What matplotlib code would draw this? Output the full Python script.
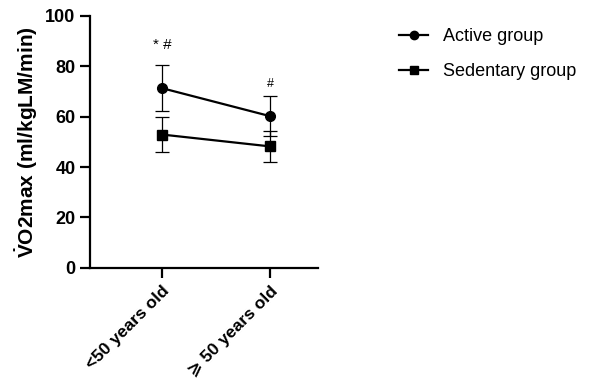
import matplotlib.pyplot as plt
from matplotlib.lines import Line2D

plt.rcParams['font.family'] = ['Liberation Sans', 'DejaVu Sans']
plt.rcParams['mathtext.fontset'] = 'custom'
plt.rcParams['mathtext.rm'] = 'Liberation Sans'
plt.rcParams['mathtext.bf'] = 'Liberation Sans:bold'

groups = ["<50 years old", "\u2a7e 50 years old"]
active_mean = [71.3, 60.2]
active_sd = [9.0, 7.9]
sedentary_mean = [52.9, 48.2]
sedentary_sd = [7.1, 6.0]
marks = ["* #", "#"]
mark_y = [88.5, 73]
mark_size = [11, 9]

fig = plt.figure(figsize=(6.08, 3.86), dpi=100)
ax = fig.add_axes([0.148, 0.306, 0.375, 0.653])
x = list(range(len(groups)))

ax.errorbar(x, active_mean, yerr=active_sd, fmt="o-", color="black", ms=7,
            lw=1.6, elinewidth=0.9, capsize=5, capthick=0.9)
ax.errorbar(x, sedentary_mean, yerr=sedentary_sd, fmt="s-", color="black", ms=7,
            lw=1.6, elinewidth=0.9, capsize=5, capthick=0.9)

for i in range(len(marks)):
    ax.text(x[i], mark_y[i], marks[i], ha="center", va="center", fontsize=mark_size[i])

ax.set_xlim(-0.667, 1.444)
ax.set_ylim(0, 100)
ax.set_yticks([0, 20, 40, 60, 80, 100])
ax.set_xticks(x)
ax.set_xticklabels(groups, rotation=45, ha="right", rotation_mode="anchor",
                   fontsize=12.5, fontweight="bold")
for lab in ax.get_yticklabels():
    lab.set_fontsize(13)
    lab.set_fontweight("bold")
ax.set_ylabel(r"$\mathbf{\dot{V}}$O2max (ml/kgLM/min)", fontsize=15, fontweight="bold")

ax.spines["top"].set_visible(False)
ax.spines["right"].set_visible(False)
ax.spines["left"].set_linewidth(1.6)
ax.spines["bottom"].set_linewidth(1.6)
ax.tick_params(width=1.6, length=7)
ax.tick_params(axis="x", pad=4)

h1 = Line2D([], [], color="black", marker="o", ms=6, lw=1.6, label="Active group")
h2 = Line2D([], [], color="black", marker="s", ms=6, lw=1.6, label="Sedentary group")
fig.legend(handles=[h1, h2], loc="upper left", bbox_to_anchor=(0.63, 0.97),
           frameon=False, fontsize=13, handlelength=1.6, labelspacing=1.0)

plt.savefig("out.png")
